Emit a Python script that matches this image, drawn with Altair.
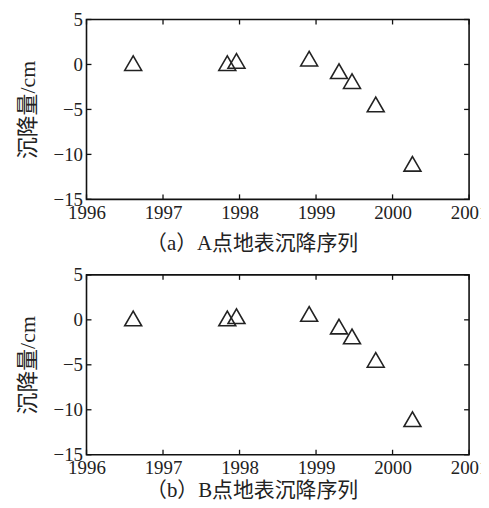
import altair as alt
import pandas as pd

# data
years_a = [1996.61, 1997.84, 1997.96, 1998.91, 1999.30, 1999.47, 1999.78, 2000.26]
values_a = [0.15, 0.15, 0.4, 0.65, -0.75, -1.85, -4.45, -11.05]
years_b = [1996.61, 1997.84, 1997.96, 1998.91, 1999.30, 1999.47, 1999.78, 2000.26]
values_b = [0.15, 0.15, 0.4, 0.65, -0.75, -1.85, -4.45, -11.05]
x_ticks = [1996, 1997, 1998, 1999, 2000, 2001]
y_ticks = [-15, -10, -5, 0, 5]
captions = ["（a）A点地表沉降序列", "（b）B点地表沉降序列"]

W, H = 385, 181
FONT = "Liberation Serif, Noto Sans CJK SC"
TICK = 5
INK = "#222222"

xt = pd.DataFrame({"year": x_ticks})
yt = pd.DataFrame({"v": y_ticks})

xscale = alt.Scale(domain=[1996, 2001], nice=False, zero=False)
yscale = alt.Scale(domain=[-15, 5], nice=False, zero=False)

common_axis = dict(ticks=False, domain=False, grid=False, labelFlush=False,
                   labelFont=FONT, labelFontSize=19, labelColor=INK,
                   titleFont=FONT, titleColor=INK, titleFontWeight="normal")


def panel(years, values, caption, cap_offset):
    df = pd.DataFrame({"year": years, "value": values})
    pts = alt.Chart(df).mark_point(
        shape="triangle-up", size=290, filled=False, color=INK, strokeWidth=1.6, opacity=1
    ).encode(
        x=alt.X("year:Q", scale=xscale,
                axis=alt.Axis(values=x_ticks, format="d", title=None, labelPadding=4,
                              **common_axis)),
        y=alt.Y("value:Q", scale=yscale,
                axis=alt.Axis(values=y_ticks, format="d", title="沉降量/cm", labelPadding=4,
                              titlePadding=14, titleFontSize=22, **common_axis)),
    )
    xt_bot = alt.Chart(xt).mark_rule(color="#111", strokeWidth=1.3).encode(
        x=alt.X("year:Q", scale=xscale), y=alt.value(H), y2=alt.value(H - TICK))
    xt_top = alt.Chart(xt).mark_rule(color="#111", strokeWidth=1.3).encode(
        x=alt.X("year:Q", scale=xscale), y=alt.value(0), y2=alt.value(TICK))
    yt_l = alt.Chart(yt).mark_rule(color="#111", strokeWidth=1.3).encode(
        y=alt.Y("v:Q", scale=yscale), x=alt.value(0), x2=alt.value(TICK))
    yt_r = alt.Chart(yt).mark_rule(color="#111", strokeWidth=1.3).encode(
        y=alt.Y("v:Q", scale=yscale), x=alt.value(W), x2=alt.value(W - TICK))
    return alt.layer(pts, xt_bot, xt_top, yt_l, yt_r).properties(
        width=W, height=H,
        title=alt.TitleParams(caption, orient="bottom", anchor="middle", frame="bounds",
                              font=FONT, fontSize=21, fontWeight="normal", color=INK,
                              offset=cap_offset),
    )


chart = alt.vconcat(
    panel(years_a, values_a, captions[0], 11),
    panel(years_b, values_b, captions[1], 3),
    spacing=10,
).configure_view(
    stroke="#111", strokeWidth=1.6
).properties(padding={"left": 7, "top": 0, "right": -8, "bottom": 0}, background="white")

chart.save("out.html", embed_options={"renderer": "svg", "actions": False})
